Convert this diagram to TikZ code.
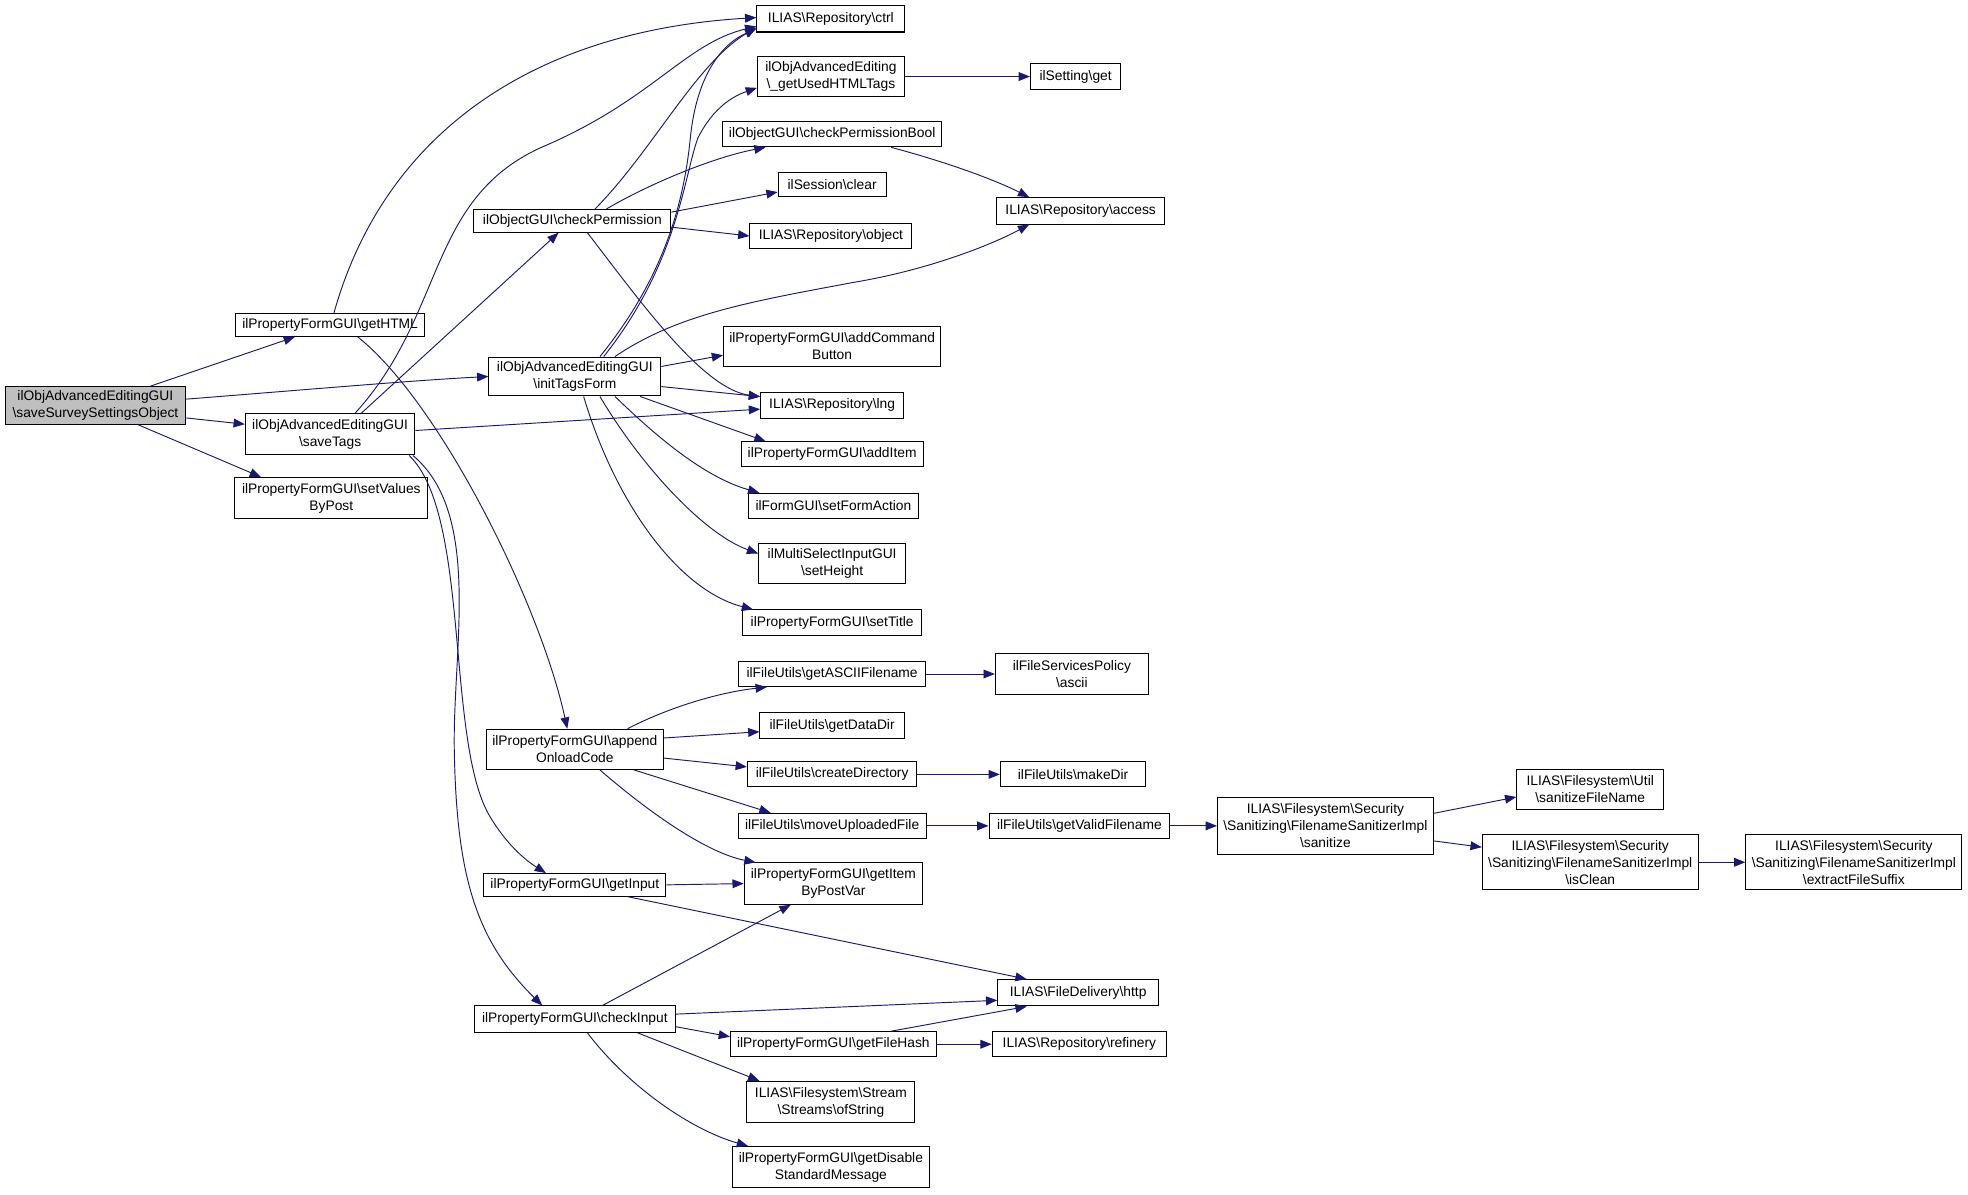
\documentclass[tikz,border=0pt]{standalone}
\usepackage{fontspec}
\setmainfont{Liberation Sans}
\usetikzlibrary{arrows.meta}
\definecolor{edgecol}{RGB}{25,25,112}
\definecolor{maingray}{RGB}{191,191,191}
\def\BS{\textbackslash{}}
\begin{document}
\begin{tikzpicture}[x=1pt,y=-1pt,
  box/.style={draw=black,line width=0.8pt,fill=white,inner sep=0pt,align=center,
    font=\fontsize{11}{13.6}\selectfont},
  call/.style={draw=edgecol,line width=0.75pt,-{Triangle[length=9pt,width=7pt]},fill=none},
]
\useasboundingbox (0,0) rectangle (1568,952);
% column 1
\node[box,fill=maingray,minimum width=144,minimum height=30] (main) at (76,323) {ilObjAdvancedEditingGUI\\\BS saveSurveySettingsObject};
% column 2
\node[box,minimum width=151,minimum height=18] (getHTML) at (263,259) {ilPropertyFormGUI\BS getHTML};
\node[box,minimum width=135,minimum height=33] (saveTags) at (263,346) {ilObjAdvancedEditingGUI\\\BS saveTags};
\node[box,minimum width=154,minimum height=33] (setValues) at (264,397) {ilPropertyFormGUI\BS setValues\\ByPost};
% column 3
\node[box,minimum width=157,minimum height=18] (checkPerm) at (456,176) {ilObjectGUI\BS checkPermission};
\node[box,minimum width=137,minimum height=31] (initTags) at (458,300) {ilObjAdvancedEditingGUI\\\BS initTagsForm};
\node[box,minimum width=141,minimum height=32] (append) at (458,597) {ilPropertyFormGUI\BS append\\OnloadCode};
\node[box,minimum width=145,minimum height=18] (getInput) at (458,705) {ilPropertyFormGUI\BS getInput};
\node[box,minimum width=160,minimum height=21] (checkInput) at (458,812) {ilPropertyFormGUI\BS checkInput};
% column 4
\node[box,minimum width=118,minimum height=21] (ctrl) at (662,15) {ILIAS\BS Repository\BS ctrl};
\node[box,minimum width=117,minimum height=32] (usedTags) at (662,61) {ilObjAdvancedEditing\\\BS \_getUsedHTMLTags};
\node[box,minimum width=175,minimum height=20] (permBool) at (663,107) {ilObjectGUI\BS checkPermissionBool};
\node[box,minimum width=86,minimum height=19] (clear) at (663,147) {ilSession\BS clear};
\node[box,minimum width=129,minimum height=20] (object) at (662,188) {ILIAS\BS Repository\BS object};
\node[box,minimum width=173,minimum height=32] (addCmd) at (663,276) {ilPropertyFormGUI\BS addCommand\\Button};
\node[box,minimum width=114,minimum height=21] (lng) at (663,323) {ILIAS\BS Repository\BS lng};
\node[box,minimum width=145,minimum height=20] (addItem) at (663,362) {ilPropertyFormGUI\BS addItem};
\node[box,minimum width=136,minimum height=20] (formAction) at (664,403) {ilFormGUI\BS setFormAction};
\node[box,minimum width=117,minimum height=32] (setHeight) at (663,449) {ilMultiSelectInputGUI\\\BS setHeight};
\node[box,minimum width=143,minimum height=20] (setTitle) at (663,496) {ilPropertyFormGUI\BS setTitle};
\node[box,minimum width=149,minimum height=20] (asciiName) at (663,537) {ilFileUtils\BS getASCIIFilename};
\node[box,minimum width=115,minimum height=20] (dataDir) at (663,578) {ilFileUtils\BS getDataDir};
\node[box,minimum width=135,minimum height=20] (createDir) at (663,617) {ilFileUtils\BS createDirectory};
\node[box,minimum width=150,minimum height=20] (moveFile) at (663,658) {ilFileUtils\BS moveUploadedFile};
\node[box,minimum width=142,minimum height=33] (itemByPost) at (664,704) {ilPropertyFormGUI\BS getItem\\ByPostVar};
\node[box,minimum width=164,minimum height=20] (fileHash) at (664,832) {ilPropertyFormGUI\BS getFileHash};
\node[box,minimum width=134,minimum height=33] (ofString) at (662,878) {ILIAS\BS Filesystem\BS Stream\\\BS Streams\BS ofString};
\node[box,minimum width=157,minimum height=33] (disableMsg) at (662,930) {ilPropertyFormGUI\BS getDisable\\StandardMessage};
% column 5
\node[box,minimum width=72,minimum height=21] (settingGet) at (857,61) {ilSetting\BS get};
\node[box,minimum width=134,minimum height=21] (access) at (861,168) {ILIAS\BS Repository\BS access};
\node[box,minimum width=122,minimum height=33] (ascii) at (854,537) {ilFileServicesPolicy\\\BS ascii};
\node[box,minimum width=116,minimum height=20] (makeDir) at (855,617) {ilFileUtils\BS makeDir};
\node[box,minimum width=144,minimum height=20] (validName) at (860,658) {ilFileUtils\BS getValidFilename};
\node[box,minimum width=128,minimum height=21] (http) at (859,791) {ILIAS\BS FileDelivery\BS http};
\node[box,minimum width=139,minimum height=20] (refinery) at (860,832) {ILIAS\BS Repository\BS refinery};
% column 6
\node[box,minimum width=172,minimum height=45] (sanitize) at (1056,658) {ILIAS\BS Filesystem\BS Security\\\BS Sanitizing\BS FilenameSanitizerImpl\\\BS sanitize};
% column 7
\node[box,minimum width=117,minimum height=32] (sanName) at (1267,629) {ILIAS\BS Filesystem\BS Util\\\BS sanitizeFileName};
\node[box,minimum width=172,minimum height=44] (isClean) at (1267,687) {ILIAS\BS Filesystem\BS Security\\\BS Sanitizing\BS FilenameSanitizerImpl\\\BS isClean};
% column 8
\node[box,minimum width=172,minimum height=44] (suffix) at (1477,687) {ILIAS\BS Filesystem\BS Security\\\BS Sanitizing\BS FilenameSanitizerImpl\\\BS extractFileSuffix};

% edges from main
\draw[call] ([xshift=44pt]main.north) -- ([xshift=-28pt]getHTML.south);
\draw[call] ([yshift=5pt]main.east) .. controls (250,310) and (330,303) .. (initTags.west);
\draw[call] ([yshift=-10pt]main.east) -- ([yshift=8pt]saveTags.west);
\draw[call] ([xshift=34pt]main.south) -- ([xshift=-56pt]setValues.north);
% getHTML
\draw[call] ([xshift=3pt]getHTML.north) .. controls (305,110) and (420,25) .. ([yshift=1pt]ctrl.west);
\draw[call] ([xshift=22pt]getHTML.south) .. controls (350,320) and (430,480) .. ([xshift=-6pt]append.north);
% saveTags
\draw[call] ([xshift=25pt]saveTags.north) -- ([xshift=-11pt]checkPerm.south);
\draw[call] ([xshift=20pt]saveTags.north) .. controls (355,250) and (340,160) .. (430,118) .. controls (520,80) and (545,35) .. ([yshift=-6pt]ctrl.west);
\draw[call] ([yshift=3pt]saveTags.east) -- ([yshift=-3pt]lng.west);
\draw[call] ([xshift=63pt]saveTags.south) .. controls (375,410) and (355,590) .. (390,650) .. controls (403,672) and (418,685) .. ([xshift=-23pt]getInput.north);
\draw[call] ([xshift=66pt]saveTags.south) .. controls (385,410) and (360,520) .. (362,600) .. controls (364,700) and (380,750) .. ([xshift=-26pt]checkInput.north);
% checkPermission
\draw[call] ([xshift=18pt]checkPerm.north) .. controls (520,120) and (555,50) .. ([yshift=-7pt]ctrl.west);
\draw[call] ([xshift=27pt]checkPerm.north) .. controls (520,145) and (570,125) .. ([xshift=-53pt]permBool.south);
\draw[call] ([yshift=7pt]checkPerm.east) -- ([yshift=-6pt]clear.west);
\draw[call] ([yshift=-5pt]checkPerm.east) -- (object.west);
\draw[call] ([xshift=12pt]checkPerm.south) .. controls (510,240) and (560,310) .. ([yshift=7pt]lng.west);
\draw[call] ([xshift=47pt]permBool.south) .. controls (750,128) and (790,142) .. ([xshift=-41pt]access.north);
\draw[call] (usedTags.east) -- (settingGet.west);
% initTagsForm
\draw[call] ([xshift=20pt]initTags.north) .. controls (530,220) and (545,160) .. (550,110) .. controls (555,60) and (575,35) .. ([yshift=-8pt]ctrl.west);
\draw[call] ([xshift=23pt]initTags.north) .. controls (540,210) and (545,140) .. (556,110) .. controls (566,90) and (580,78) .. ([yshift=-9pt]usedTags.west);
\draw[call] ([xshift=32pt]initTags.north) .. controls (540,250) and (600,240) .. (680,225) .. controls (740,215) and (790,195) .. ([xshift=-41pt]access.south);
\draw[call] ([yshift=8pt]initTags.east) -- ([yshift=-7pt]addCmd.west);
\draw[call] ([yshift=-8pt]initTags.east) -- ([yshift=7pt]lng.west);
\draw[call] ([xshift=52pt]initTags.south) -- ([xshift=-53pt]addItem.north);
\draw[call] ([xshift=32pt]initTags.south) .. controls (520,345) and (560,380) .. ([xshift=-59pt]formAction.north);
\draw[call] ([xshift=20pt]initTags.south) .. controls (510,370) and (560,425) .. ([yshift=8pt]setHeight.west);
\draw[call] ([xshift=7pt]initTags.south) .. controls (490,400) and (540,470) .. ([xshift=-63pt]setTitle.north);
% appendOnloadCode
\draw[call] ([xshift=42pt]append.north) .. controls (530,565) and (570,552) .. ([xshift=-52pt]asciiName.south);
\draw[call] ([yshift=9pt]append.east) -- ([yshift=-5pt]dataDir.west);
\draw[call] ([yshift=-7pt]append.east) -- ([yshift=6pt]createDir.west);
\draw[call] ([xshift=47pt]append.south) -- ([xshift=-49pt]moveFile.north);
\draw[call] ([xshift=20pt]append.south) .. controls (520,650) and (565,680) .. ([xshift=-62pt]itemByPost.north);
\draw[call] (asciiName.east) -- (ascii.west);
\draw[call] (createDir.east) -- (makeDir.west);
\draw[call] (moveFile.east) -- (validName.west);
\draw[call] (validName.east) -- (sanitize.west);
\draw[call] ([yshift=10pt]sanitize.east) -- ([yshift=-6pt]sanName.west);
\draw[call] ([yshift=-12pt]sanitize.east) -- ([yshift=12pt]isClean.west);
\draw[call] (isClean.east) -- (suffix.west);
% getInput
\draw[call] (getInput.east) -- (itemByPost.west);
\draw[call] ([xshift=42pt]getInput.south) -- ([xshift=-41pt]http.north);
% checkInput
\draw[call] ([xshift=22pt]checkInput.north) -- ([xshift=-34pt]itemByPost.south);
\draw[call] ([yshift=4pt]checkInput.east) -- ([yshift=-6pt]http.west);
\draw[call] ([yshift=-6pt]checkInput.east) -- ([yshift=6pt]fileHash.west);
\draw[call] ([xshift=50pt]checkInput.south) -- ([xshift=-57pt]ofString.north);
\draw[call] ([xshift=10pt]checkInput.south) .. controls (500,865) and (550,900) .. ([xshift=-66pt]disableMsg.north);
\draw[call] ([xshift=46pt]fileHash.north) -- ([xshift=-41pt]http.south);
\draw[call] (fileHash.east) -- (refinery.west);
\end{tikzpicture}
\end{document}
